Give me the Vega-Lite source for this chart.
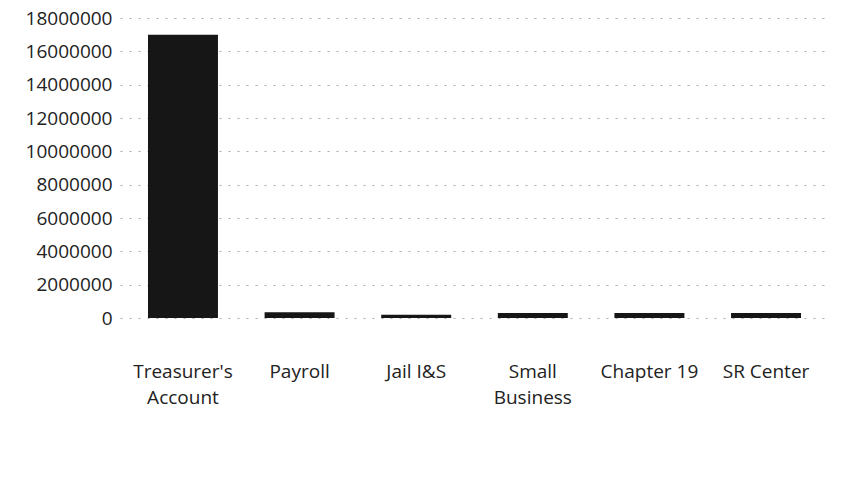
{
  "$schema": "https://vega.github.io/schema/vega-lite/v6.json",
  "width": 709,
  "height": 300,
  "autosize": {"type": "none"},
  "padding": {"left": 120, "top": 18, "right": 39, "bottom": 164},
  "background": "white",
  "config": {"view": {"stroke": null}, "font": "Open Sans"},
  "data": {"values": [
    {"fund": "Treasurer's Account", "amount": 17000000},
    {"fund": "Payroll", "amount": 350000},
    {"fund": "Jail I&S", "amount": 200000},
    {"fund": "Small Business", "amount": 300000},
    {"fund": "Chapter 19", "amount": 300000},
    {"fund": "SR Center", "amount": 300000}
  ]},
  "mark": {"type": "bar", "color": "#161616"},
  "encoding": {
    "x": {
      "field": "fund", "type": "nominal", "sort": null,
      "scale": {"paddingInner": 0.4, "paddingOuter": 0.24},
      "axis": {
        "title": null, "labelAngle": 0, "domain": false, "ticks": false,
        "labelFontSize": 19, "labelColor": "#222", "labelPadding": 44,
        "labelExpr": "datum.label == \"Treasurer's Account\" ? [\"Treasurer's\", 'Account'] : datum.label == 'Small Business' ? ['Small', 'Business'] : datum.label",
        "labelLineHeight": 26
      }
    },
    "y": {
      "field": "amount", "type": "quantitative",
      "scale": {"domain": [0, 18000000]},
      "axis": {
        "title": null, "values": [0, 2000000, 4000000, 6000000, 8000000, 10000000, 12000000, 14000000, 16000000, 18000000],
        "format": "d", "domain": false, "ticks": false,
        "labelFontSize": 19, "labelColor": "#222", "labelPadding": 8,
        "gridColor": "#aaa", "gridDash": [2, 7], "gridWidth": 1
      }
    }
  }
}
